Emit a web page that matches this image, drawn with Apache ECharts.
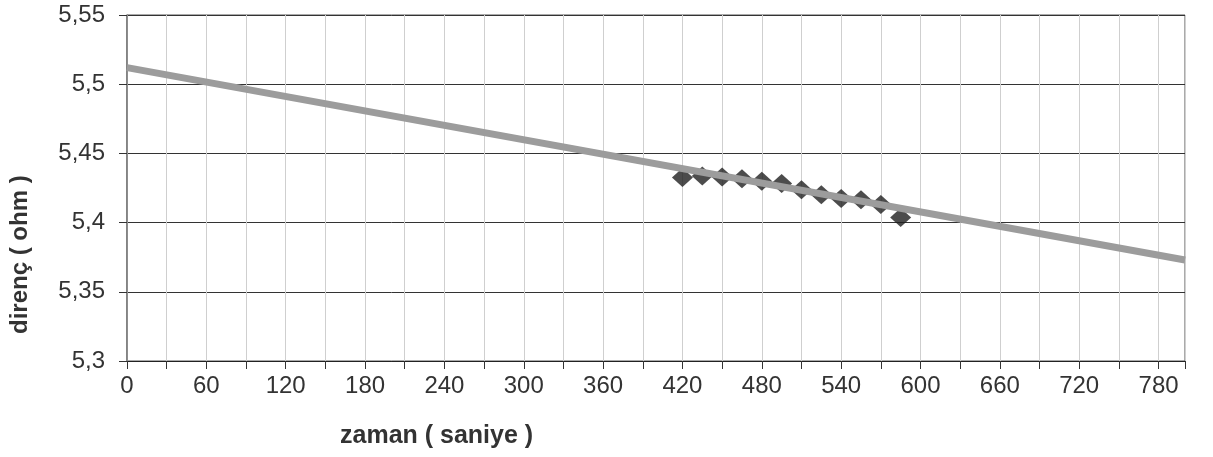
<!DOCTYPE html>
<html lang="tr">
<head>
    <meta charset="UTF-8">
    <title>direnç - zaman</title>
    <style>
        html, body { margin: 0; padding: 0; background: #fff; }
        #chart { width: 1213px; height: 457px; }
    </style>
</head>
<body>
    <div id="chart"></div>
    <script src="https://cdn.jsdelivr.net/npm/echarts@6/dist/echarts.min.js"></script>
    <script>
        // olculen noktalar
        const zaman = [420, 435, 450, 465, 480, 495, 510, 525, 540, 555, 570, 585]
        const direnc = [5.4326, 5.4336, 5.4329, 5.4316, 5.4298, 5.4282, 5.4238, 5.4202, 5.4174, 5.4166, 5.4131, 5.4036]
        // egilim cizgisi (uc noktalar)
        const egilimX = [0, 800]
        const egilimY = [5.512, 5.373]

        const chart = echarts.init(document.getElementById('chart'))
        const font = '"Liberation Sans", Arial, sans-serif'

        chart.setOption({
            animation: false,
            grid: {
                left: 127, right: 28, top: 15, bottom: 96,
                show: true, borderColor: '#555', borderWidth: 1
            },
            xAxis: {
                type: 'value',
                min: 0, max: 800, interval: 30,
                axisLine: { lineStyle: { color: '#222', width: 1 } },
                axisTick: { show: true, length: 8, lineStyle: { color: '#333' } },
                axisLabel: {
                    margin: 13, fontSize: 24, color: '#333', fontFamily: font,
                    formatter: v => (v % 60 === 0 ? String(v) : '')
                },
                splitLine: { show: true, lineStyle: { color: '#cfcfcf', width: 1 } }
            },
            yAxis: {
                type: 'value',
                min: 5.3, max: 5.55, interval: 0.05,
                axisLine: { show: true, lineStyle: { color: '#777', width: 1.5 } },
                axisTick: { show: true, length: 8, lineStyle: { color: '#333' } },
                axisLabel: {
                    margin: 22, fontSize: 24, color: '#333', fontFamily: font,
                    formatter: v => String(parseFloat(v.toFixed(2))).replace('.', ',')
                },
                splitLine: { show: true, lineStyle: { color: '#333', width: 1 } }
            },
            graphic: [
                {
                    type: 'text', left: 340, top: 424,
                    style: { text: 'zaman ( saniye )', font: 'bold 25px ' + font, fill: '#333' }
                },
                {
                    type: 'text', x: 8, y: 334, rotation: Math.PI / 2,
                    style: { text: 'direnç ( ohm )', font: 'bold 24px ' + font, fill: '#333' }
                }
            ],
            series: [
                {
                    type: 'scatter',
                    symbol: 'diamond',
                    symbolSize: [21, 19],
                    itemStyle: { color: '#1f1f1f' },
                    data: zaman.map((t, i) => [t, direnc[i]]),
                    z: 2
                },
                {
                    type: 'line',
                    showSymbol: false,
                    lineStyle: { color: '#9c9c9c', width: 7 },
                    data: egilimX.map((t, i) => [t, egilimY[i]]),
                    z: 3
                }
            ]
        })
    </script>
</body>
</html>
